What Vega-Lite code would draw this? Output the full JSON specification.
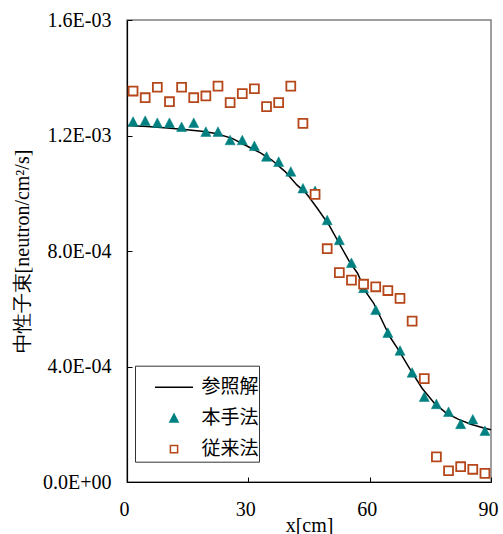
{
  "$schema": "https://vega.github.io/schema/vega-lite/v6.json",
  "width": 364,
  "height": 462,
  "autosize": {"type": "none"},
  "padding": {"left": 127, "top": 20, "right": 12, "bottom": 52},
  "background": "white",
  "config": {
    "view": {"stroke": "#808080", "strokeWidth": 1.5},
    "axis": {
      "domainColor": "black", "domainWidth": 1.2, "tickColor": "black", "tickSize": -5,
      "labelColor": "black", "titleColor": "black",
      "labelFont": "Liberation Serif", "labelFontSize": 20,
      "titleFont": "Liberation Serif", "titleFontSize": 20, "titleFontWeight": "normal",
      "grid": false
    },
    "legend": {
      "titleFontSize": 5, "titlePadding": 4.5,
      "orient": "none", "legendX": 8, "legendY": 345.7, "direction": "vertical",
      "padding": 0, "rowPadding": 7, "clipHeight": 24, "symbolSize": 1444, "symbolStrokeWidth": 1.5,
      "symbolOffset": 19, "labelOffset": 7.5, "labelFont": "Noto Sans CJK JP", "labelFontSize": 19,
      "labelColor": "black", "strokeColor": "#333333", "fillColor": "white",
      "symbolFillColor": "white", "symbolStrokeColor": "black"
    }
  },
  "data": {"values": [
    {"x": 0, "y": 0.001235, "series": "参照解"},
    {"x": 5, "y": 0.001231, "series": "参照解"},
    {"x": 10, "y": 0.001226, "series": "参照解"},
    {"x": 13.5, "y": 0.001222, "series": "参照解"},
    {"x": 18.5, "y": 0.001215, "series": "参照解"},
    {"x": 22, "y": 0.001207, "series": "参照解"},
    {"x": 26, "y": 0.00119, "series": "参照解"},
    {"x": 30, "y": 0.001161, "series": "参照解"},
    {"x": 33, "y": 0.00114, "series": "参照解"},
    {"x": 35.8, "y": 0.001115, "series": "参照解"},
    {"x": 39.1, "y": 0.001075, "series": "参照解"},
    {"x": 42, "y": 0.001029, "series": "参照解"},
    {"x": 44, "y": 0.001004, "series": "参照解"},
    {"x": 45, "y": 0.000987, "series": "参照解"},
    {"x": 47, "y": 0.000949, "series": "参照解"},
    {"x": 50, "y": 0.000889, "series": "参照解"},
    {"x": 53, "y": 0.000813, "series": "参照解"},
    {"x": 55, "y": 0.000763, "series": "参照解"},
    {"x": 57, "y": 0.000723, "series": "参照解"},
    {"x": 59, "y": 0.000659, "series": "参照解"},
    {"x": 61, "y": 0.000619, "series": "参照解"},
    {"x": 63, "y": 0.000561, "series": "参照解"},
    {"x": 65, "y": 0.000503, "series": "参照解"},
    {"x": 67, "y": 0.00046, "series": "参照解"},
    {"x": 70, "y": 0.00039, "series": "参照解"},
    {"x": 73, "y": 0.000324, "series": "参照解"},
    {"x": 76, "y": 0.000273, "series": "参照解"},
    {"x": 79, "y": 0.000238, "series": "参照解"},
    {"x": 82, "y": 0.000217, "series": "参照解"},
    {"x": 85, "y": 0.0002, "series": "参照解"},
    {"x": 88, "y": 0.000188, "series": "参照解"},
    {"x": 90, "y": 0.000181, "series": "参照解"},
    {"x": 1.5, "y": 0.001248, "series": "本手法"},
    {"x": 4.5, "y": 0.001251, "series": "本手法"},
    {"x": 7.5, "y": 0.001244, "series": "本手法"},
    {"x": 10.5, "y": 0.001244, "series": "本手法"},
    {"x": 13.5, "y": 0.00123, "series": "本手法"},
    {"x": 16.5, "y": 0.001244, "series": "本手法"},
    {"x": 19.5, "y": 0.001213, "series": "本手法"},
    {"x": 22.5, "y": 0.001213, "series": "本手法"},
    {"x": 25.5, "y": 0.001184, "series": "本手法"},
    {"x": 28.5, "y": 0.001184, "series": "本手法"},
    {"x": 31.5, "y": 0.001164, "series": "本手法"},
    {"x": 34.5, "y": 0.001127, "series": "本手法"},
    {"x": 37.5, "y": 0.001109, "series": "本手法"},
    {"x": 40.5, "y": 0.001075, "series": "本手法"},
    {"x": 43.5, "y": 0.001017, "series": "本手法"},
    {"x": 46.5, "y": 0.001008, "series": "本手法"},
    {"x": 49.5, "y": 0.000907, "series": "本手法"},
    {"x": 52.5, "y": 0.000838, "series": "本手法"},
    {"x": 55.5, "y": 0.000759, "series": "本手法"},
    {"x": 58.5, "y": 0.000672, "series": "本手法"},
    {"x": 61.5, "y": 0.000596, "series": "本手法"},
    {"x": 64.5, "y": 0.000517, "series": "本手法"},
    {"x": 67.5, "y": 0.000455, "series": "本手法"},
    {"x": 70.5, "y": 0.000379, "series": "本手法"},
    {"x": 73.5, "y": 0.000295, "series": "本手法"},
    {"x": 76.5, "y": 0.00027, "series": "本手法"},
    {"x": 79.5, "y": 0.000243, "series": "本手法"},
    {"x": 82.5, "y": 0.000201, "series": "本手法"},
    {"x": 85.5, "y": 0.000217, "series": "本手法"},
    {"x": 88.5, "y": 0.000177, "series": "本手法"},
    {"x": 1.5, "y": 0.001354, "series": "従来法"},
    {"x": 4.5, "y": 0.001331, "series": "従来法"},
    {"x": 7.5, "y": 0.001367, "series": "従来法"},
    {"x": 10.5, "y": 0.001317, "series": "従来法"},
    {"x": 13.5, "y": 0.001367, "series": "従来法"},
    {"x": 16.5, "y": 0.001331, "series": "従来法"},
    {"x": 19.5, "y": 0.001337, "series": "従来法"},
    {"x": 22.5, "y": 0.001371, "series": "従来法"},
    {"x": 25.5, "y": 0.001314, "series": "従来法"},
    {"x": 28.5, "y": 0.001345, "series": "従来法"},
    {"x": 31.5, "y": 0.001362, "series": "従来法"},
    {"x": 34.5, "y": 0.0013, "series": "従来法"},
    {"x": 37.5, "y": 0.001314, "series": "従来法"},
    {"x": 40.5, "y": 0.001371, "series": "従来法"},
    {"x": 43.5, "y": 0.001242, "series": "従来法"},
    {"x": 46.5, "y": 0.000996, "series": "従来法"},
    {"x": 49.5, "y": 0.000808, "series": "従来法"},
    {"x": 52.5, "y": 0.000725, "series": "従来法"},
    {"x": 55.5, "y": 0.000699, "series": "従来法"},
    {"x": 58.5, "y": 0.000685, "series": "従来法"},
    {"x": 61.5, "y": 0.000676, "series": "従来法"},
    {"x": 64.5, "y": 0.000663, "series": "従来法"},
    {"x": 67.5, "y": 0.000636, "series": "従来法"},
    {"x": 70.5, "y": 0.000557, "series": "従来法"},
    {"x": 73.5, "y": 0.000358, "series": "従来法"},
    {"x": 76.5, "y": 0.000087, "series": "従来法"},
    {"x": 79.5, "y": 0.000039, "series": "従来法"},
    {"x": 82.5, "y": 0.000053, "series": "従来法"},
    {"x": 85.5, "y": 0.000044, "series": "従来法"},
    {"x": 88.5, "y": 0.00003, "series": "従来法"}
  ]},
  "encoding": {
    "x": {"field": "x", "type": "quantitative",
      "scale": {"domain": [0, 90], "nice": false, "zero": false},
      "axis": {"values": [0, 30, 60, 90], "title": "x[cm]", "labelFlush": false, "labelOverlap": false, "labelPadding": 22, "labelOffset": -3, "titlePadding": -4}},
    "y": {"field": "y", "type": "quantitative",
      "scale": {"domain": [0, 0.0016], "nice": false},
      "axis": {"values": [0, 0.0004, 0.0008, 0.0012, 0.0016], "title": "中性子束[neutron/cm²/s]",
        "titleFont": "Liberation Serif",
        "labelExpr": "datum.value === 0 ? '0.0E+00' : format(datum.value / pow(10, floor(log(datum.value) / LN10)), '.1f') + 'E-0' + (-floor(log(datum.value) / LN10))",
        "labelPadding": 21, "labelFlush": false, "titlePadding": 10}}
  },
  "layer": [
    {
      "transform": [{"filter": "datum.series === '参照解'"}],
      "mark": {"type": "line", "strokeWidth": 1.5},
      "encoding": {
        "stroke": {"field": "series", "type": "nominal",
          "scale": {"domain": ["参照解", "本手法", "従来法"], "range": ["#000000", "#008080", "#B5471A"]},
          "legend": {"title": " ", "labelExpr": "datum.label + '\u2002'"}}
      }
    },
    {
      "transform": [{"filter": "datum.series !== '参照解'"}],
      "mark": {"type": "point", "size": 2190, "opacity": 1, "filled": false},
      "encoding": {
        "stroke": {"field": "series", "type": "nominal",
          "scale": {"domain": ["参照解", "本手法", "従来法"], "range": ["#000000", "#008080", "#B5471A"]},
          "legend": {"title": " ", "labelExpr": "datum.label + '\u2002'"}},
        "fill": {"field": "series", "type": "nominal",
          "scale": {"domain": ["参照解", "本手法", "従来法"], "range": ["transparent", "#008080", "#ffffff"]},
          "legend": {"title": " ", "labelExpr": "datum.label + '\u2002'"}},
        "shape": {"field": "series", "type": "nominal",
          "scale": {"domain": ["参照解", "本手法", "従来法"], "range": ["M-1,0H1", "M0,-0.21L0.215,0.2L-0.215,0.2Z", "M-0.19,-0.19H0.19V0.19H-0.19Z"]},
          "legend": {"title": " ", "labelExpr": "datum.label + '\u2002'"}},
        "strokeWidth": {"condition": {"test": "datum.series === '本手法'", "value": 0.5}, "value": 1.8}
      }
    }
  ]
}
